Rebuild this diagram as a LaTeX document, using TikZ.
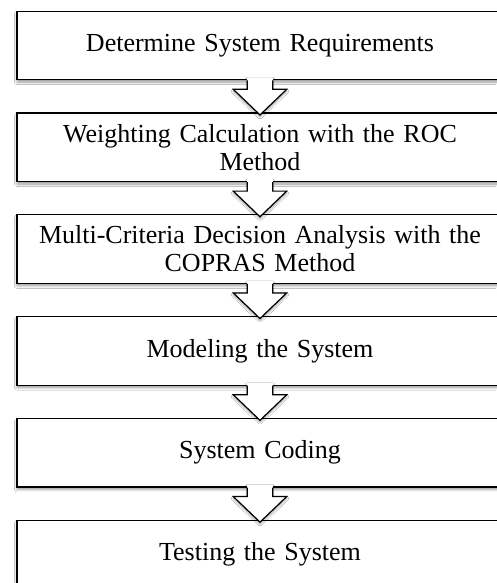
\documentclass[tikz,border=0pt]{standalone}
\usepackage{fontspec}
\setmainfont{Liberation Serif}
\usetikzlibrary{positioning,shadows.blur}

\tikzset{
  stepbox/.style={draw,line width=1.2pt,fill=white,minimum width=486pt,minimum height=68.5pt,
    text width=470pt,align=center,inner sep=0pt,font=\fontsize{26pt}{28pt}\selectfont,
    blur shadow={shadow xshift=0pt,shadow yshift=-2.5pt,shadow blur radius=2.5pt}},
  arrowfill/.style={fill=white,blur shadow={shadow xshift=0pt,shadow yshift=-2pt,shadow blur radius=2pt}},
  arrowline/.style={draw,line width=1.2pt,line join=miter}
}

\begin{document}
\begin{tikzpicture}
\useasboundingbox[fill=white] (0,0) rectangle (496pt,583pt);
% steps
\node[stepbox] (req) at (260pt,537.5pt) {Determine System Requirements};
\node[stepbox,below=32.1pt of req] (roc) {Weighting Calculation with the ROC\\Method};
\node[stepbox,below=32.1pt of roc] (copras) {Multi-Criteria Decision Analysis with the\\COPRAS Method};
\node[stepbox,below=32.1pt of copras] (model) {Modeling the System};
\node[stepbox,below=32.1pt of model] (code) {System Coding};
\node[stepbox,below=32.1pt of code] (test) {Testing the System};
% block arrows
\foreach \a/\b in {req/roc,roc/copras,copras/model,model/code,code/test}{
  \path[arrowfill] ([xshift=-12.8pt,yshift=3pt]\a.south) -- ([xshift=-12.8pt,yshift=-9pt]\a.south)
    -- ([xshift=-26.7pt,yshift=-9pt]\a.south) -- ([yshift=-2.5pt]\b.north)
    -- ([xshift=26.7pt,yshift=-9pt]\a.south) -- ([xshift=12.8pt,yshift=-9pt]\a.south)
    -- ([xshift=12.8pt,yshift=3pt]\a.south) -- cycle;
  \path[arrowline] ([xshift=-12.8pt]\a.south) -- ([xshift=-12.8pt,yshift=-9pt]\a.south)
    -- ([xshift=-26.7pt,yshift=-9pt]\a.south) -- ([yshift=-2.5pt]\b.north)
    -- ([xshift=26.7pt,yshift=-9pt]\a.south) -- ([xshift=12.8pt,yshift=-9pt]\a.south)
    -- ([xshift=12.8pt]\a.south);
}
\end{tikzpicture}
\end{document}
